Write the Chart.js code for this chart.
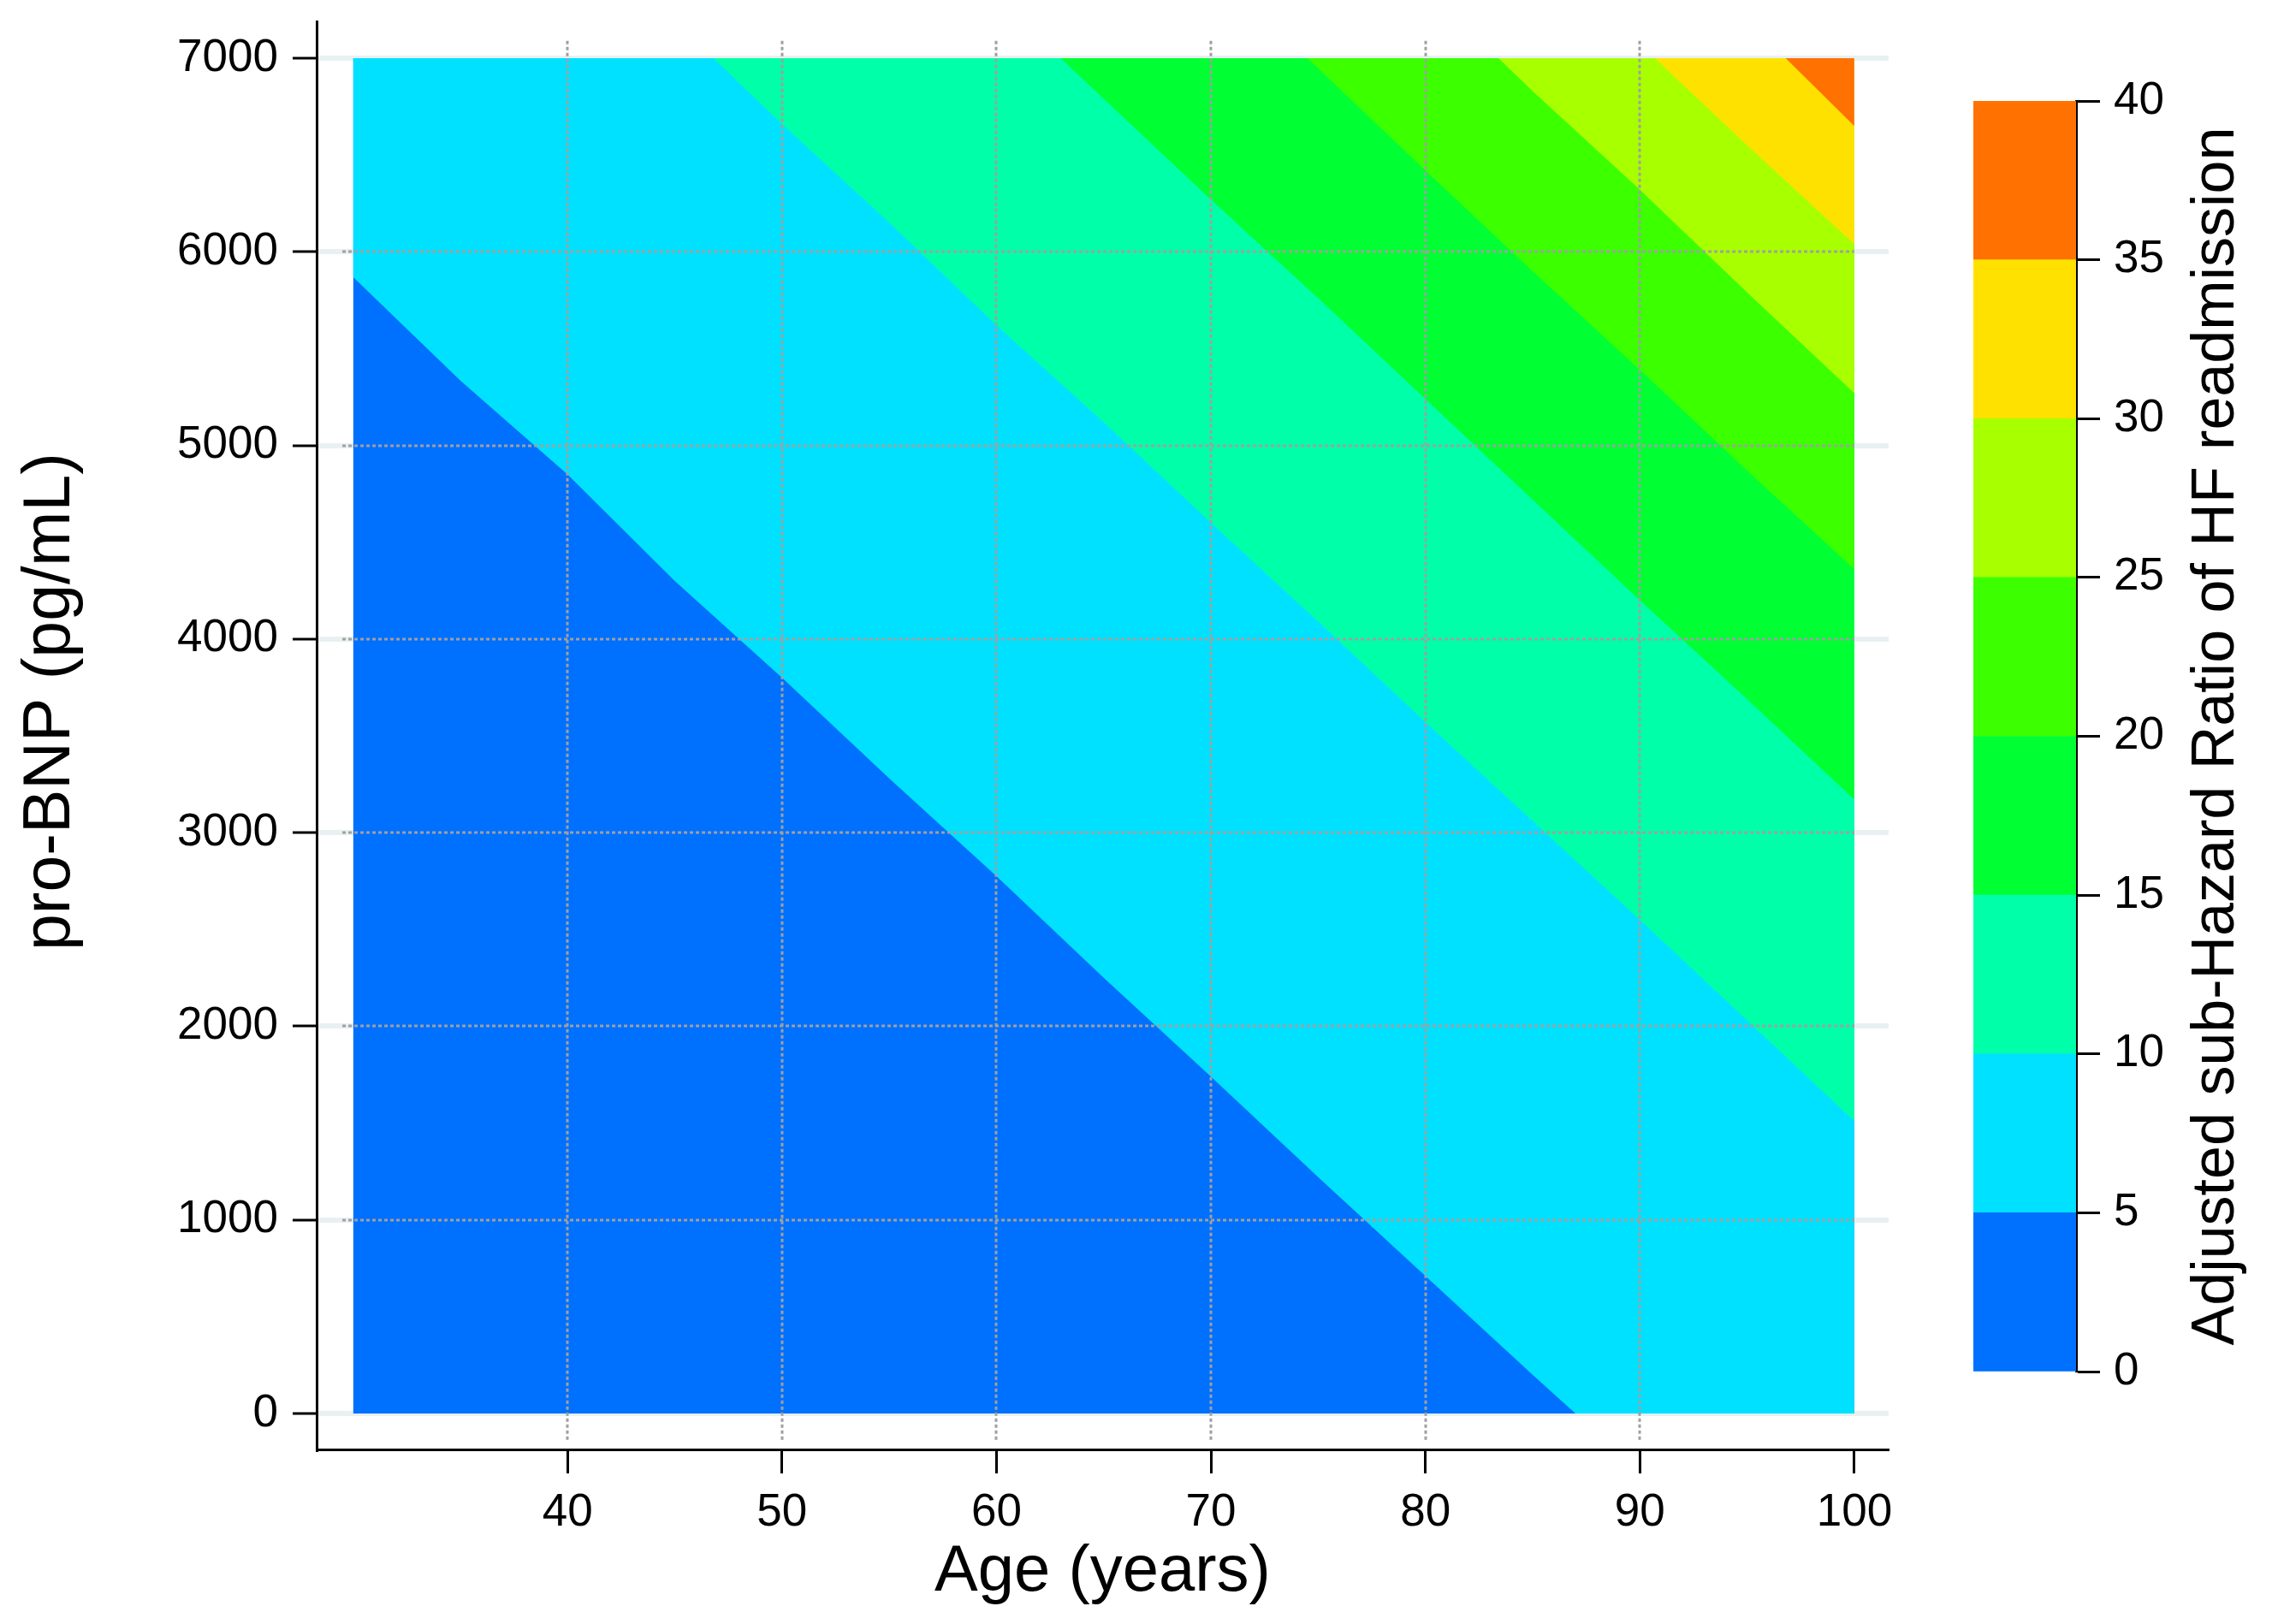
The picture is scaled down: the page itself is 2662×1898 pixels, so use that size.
<!DOCTYPE html>
<html>
<head>
<meta charset="utf-8">
<script src="https://cdn.jsdelivr.net/npm/chart.js@4/dist/chart.umd.min.js"></script>
<style>
html,body{margin:0;padding:0;background:#ffffff;}
#wrap{position:relative;width:2662px;height:1898px;}
canvas{position:absolute;left:0;top:0;}
</style>
</head>
<body>
<div id="wrap">
<canvas id="main" width="2662" height="1898"></canvas>
<canvas id="cbar" width="2662" height="1898"></canvas>
</div>
<script>
// ---------------- data ----------------
const ageRange = [30, 100];          // Age (years) covered by the contour surface
const bnpRange = [0, 7000];          // pro-BNP (pg/mL) covered by the contour surface
const xTicks = [40, 50, 60, 70, 80, 90, 100];
const yTicks = [0, 1000, 2000, 3000, 4000, 5000, 6000, 7000];
const cbLevels = [0, 5, 10, 15, 20, 25, 30, 35, 40];   // sub-HR contour levels
const cbTicks = [0, 5, 10, 15, 20, 25, 30, 35, 40];

// contour boundaries: HR = level (age, pro-BNP)
const hr5Age  = [30, 35, 40, 45, 50, 55, 60, 65, 70, 75, 80, 85, 87];
const hr5Bnp  = [5870, 5335, 4850, 4300, 3800, 3280, 2775, 2250, 1740, 1220, 710, 200, 0];
const hr10Age = [46.8, 50, 55, 60, 65, 70, 75, 80, 85, 90, 95, 100];
const hr10Bnp = [7000, 6660, 6150, 5620, 5120, 4600, 4090, 3570, 3060, 2550, 2030, 1510];
const hr15Age = [63, 65, 70, 75, 80, 85, 90, 95, 100];
const hr15Bnp = [7000, 6790, 6270, 5760, 5240, 4720, 4200, 3690, 3170];
const hr20Age = [74.5, 80, 85, 90, 95, 100];
const hr20Bnp = [7000, 6420, 5900, 5390, 4870, 4360];
const hr25Age = [83.4, 85, 90, 95, 100];
const hr25Bnp = [7000, 6830, 6320, 5790, 5270];
const hr30Age = [90.7, 95, 100];
const hr30Bnp = [7000, 6550, 6040];
const hr35Age = [96.8, 100];
const hr35Bnp = [7000, 6650];

const xTitle = 'Age (years)';
const yTitle = 'pro-BNP (pg/mL)';
const cbTitleText = 'Adjusted sub-Hazard Ratio of HF readmission';

// ---------------- styles ----------------
const levelColors = ['#0070ff', '#00e1ff', '#00ffa9', '#00ff33', '#3cff00', '#a8ff00', '#ffe100', '#ff7100'];
const FONT = '"Liberation Sans", Arial, Helvetica, sans-serif';

const boundaries = [
  [hr5Age, hr5Bnp], [hr10Age, hr10Bnp], [hr15Age, hr15Bnp], [hr20Age, hr20Bnp],
  [hr25Age, hr25Bnp], [hr30Age, hr30Bnp], [hr35Age, hr35Bnp]
];

function lineDs(points, color) {
  return {
    type: 'line',
    data: points,
    fill: { value: bnpRange[1] },
    backgroundColor: color,
    borderColor: 'transparent',
    borderWidth: 0,
    pointRadius: 0,
    pointHoverRadius: 0,
    tension: 0
  };
}

const datasets = [];
// lowest band: the whole surface
datasets.push(lineDs([{x: ageRange[0], y: bnpRange[0]}, {x: ageRange[1], y: bnpRange[0]}], levelColors[0]));
boundaries.forEach(([ages, bnps], i) => {
  const pts = ages.map((a, k) => ({x: a, y: bnps[k]}));
  const last = pts[pts.length - 1];
  if (last.y === bnpRange[0] && last.x < ageRange[1]) pts.push({x: ageRange[1], y: bnpRange[0]});
  datasets.push(lineDs(pts, levelColors[i + 1]));
});
datasets.reverse(); // index 0 is drawn last (on top)

const dottedGrid = {
  id: 'dottedGrid',
  afterDatasetsDraw(chart) {
    const {ctx, scales: {x, y}} = chart;
    ctx.save();
    ctx.strokeStyle = '#a0a0a0';
    ctx.lineWidth = 3;
    ctx.setLineDash([4, 3]);
    xTicks.forEach(v => {
      if (v >= ageRange[1]) return;
      const px = Math.round(x.getPixelForValue(v));
      ctx.beginPath();
      ctx.moveTo(px, y.getPixelForValue(7090));
      ctx.lineTo(px, y.getPixelForValue(-150));
      ctx.stroke();
    });
    yTicks.forEach(v => {
      if (v <= bnpRange[0] || v >= bnpRange[1]) return;
      const py = Math.round(y.getPixelForValue(v));
      ctx.beginPath();
      ctx.moveTo(x.getPixelForValue(29.5), py);
      ctx.lineTo(x.getPixelForValue(100), py);
      ctx.stroke();
    });
    ctx.restore();
  }
};

// y-axis title (rotated, bottom-to-top)
const yTitlePlugin = {
  id: 'yTitlePlugin',
  afterDraw(chart) {
    const {ctx} = chart;
    ctx.save();
    ctx.translate(60, 820);
    ctx.rotate(-Math.PI / 2);
    ctx.font = '77px ' + FONT;
    ctx.fillStyle = '#000';
    ctx.textAlign = 'center';
    ctx.textBaseline = 'middle';
    ctx.fillText(yTitle, 0, 0);
    ctx.restore();
  }
};

const plainLabel = v => String(v);

new Chart(document.getElementById('main'), {
  type: 'line',
  data: { datasets },
  options: {
    responsive: false,
    animation: false,
    devicePixelRatio: 1,
    events: [],
    layout: { padding: { left: 0, top: 25, right: 455, bottom: 0 } },
    plugins: { legend: { display: false }, tooltip: { enabled: false } },
    scales: {
      x: {
        type: 'linear', min: 28.3, max: 101.6,
        afterBuildTicks: s => { s.ticks = xTicks.map(v => ({value: v})); },
        afterFit: s => { s.height = 204; s.paddingLeft = 0; s.paddingRight = 0; },
        ticks: { font: { family: FONT, size: 53 }, color: '#000', padding: 15, maxRotation: 0, autoSkip: false, callback: plainLabel },
        grid: { drawOnChartArea: false, drawTicks: true, tickLength: 28, tickColor: '#000', tickWidth: 3 },
        border: { display: true, color: '#000', width: 3 },
        title: { display: true, text: xTitle, color: '#000', font: { family: FONT, size: 76 }, padding: { top: 0, bottom: 14 } }
      },
      y: {
        type: 'linear', min: -186, max: 7190,
        afterBuildTicks: s => { s.ticks = yTicks.map(v => ({value: v})); },
        afterFit: s => { s.width = 370; s.paddingTop = 0; s.paddingBottom = 0; },
        ticks: { font: { family: FONT, size: 53 }, color: '#000', padding: 17, autoSkip: false, callback: plainLabel },
        grid: { drawOnChartArea: true, color: '#e8f0f2', lineWidth: 6, drawTicks: true, tickLength: 28, tickColor: '#000', tickWidth: 3 },
        border: { display: true, color: '#000', width: 3 },
        title: { display: false, text: yTitle }
      }
    }
  },
  plugins: [dottedGrid, yTitlePlugin]
});

// ---------------- colour bar ----------------
const cbTitle = {
  id: 'cbTitle',
  afterDraw(chart) {
    const {ctx, chartArea} = chart;
    ctx.save();
    ctx.translate(chartArea.right + 165, (chartArea.top + chartArea.bottom) / 2);
    ctx.rotate(-Math.PI / 2);
    ctx.font = '70px ' + FONT;
    ctx.fillStyle = '#000';
    ctx.textAlign = 'center';
    ctx.textBaseline = 'middle';
    ctx.fillText(cbTitleText, 0, 0);
    ctx.restore();
  }
};

new Chart(document.getElementById('cbar'), {
  type: 'bar',
  data: {
    labels: [''],
    datasets: levelColors.map((c, i) => ({
      data: [cbLevels[i + 1] - cbLevels[i]],
      backgroundColor: c,
      borderWidth: 0,
      barPercentage: 1,
      categoryPercentage: 1
    }))
  },
  options: {
    responsive: false,
    animation: false,
    devicePixelRatio: 1,
    events: [],
    layout: { padding: { left: 2306, top: 118, right: 0, bottom: 295 } },
    plugins: { legend: { display: false }, tooltip: { enabled: false } },
    scales: {
      x: { display: false, stacked: true },
      y: {
        stacked: true, position: 'right', min: cbLevels[0], max: cbLevels[cbLevels.length - 1],
        afterBuildTicks: s => { s.ticks = cbTicks.map(v => ({value: v})); },
        afterFit: s => { s.width = 236; s.paddingTop = 0; s.paddingBottom = 0; },
        ticks: { font: { family: FONT, size: 53 }, color: '#000', padding: 16, callback: plainLabel },
        grid: { drawOnChartArea: false, drawTicks: true, tickLength: 28, tickColor: '#000', tickWidth: 3 },
        border: { display: true, color: '#000', width: 3 }
      }
    }
  },
  plugins: [cbTitle]
});
</script>
</body>
</html>
